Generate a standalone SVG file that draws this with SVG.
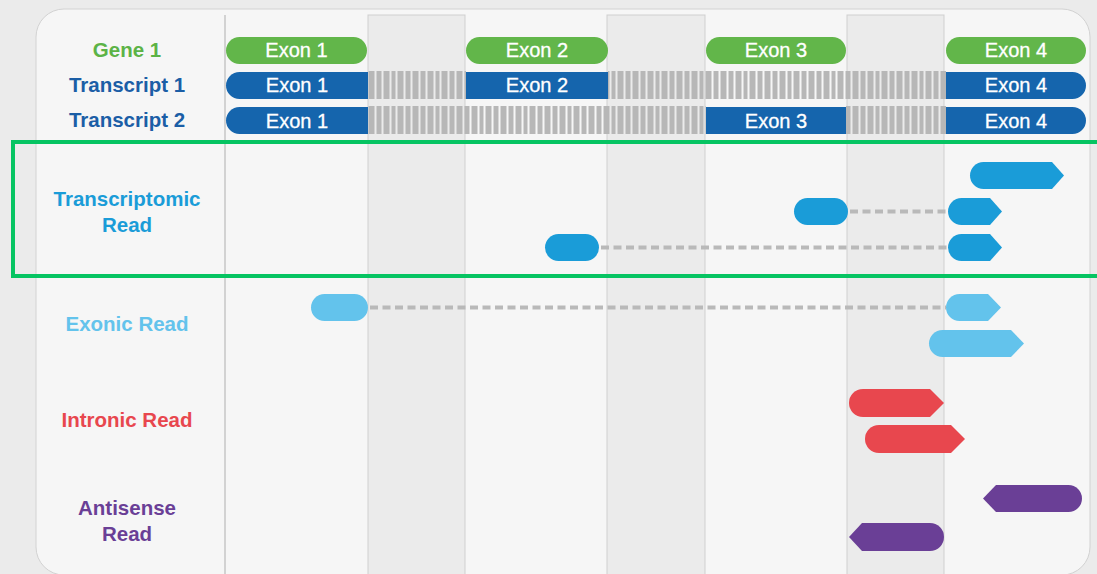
<svg xmlns="http://www.w3.org/2000/svg" width="1097" height="574" viewBox="0 0 1097 574">
  <defs>
    <style>
      .lbl { font-family: "Liberation Sans", Arial, sans-serif; font-weight: bold; font-size: 20.5px; text-anchor: middle; }
      .ex { font-family: "Liberation Sans", Arial, sans-serif; font-size: 20px; fill: #ffffff; text-anchor: middle; stroke: #ffffff; stroke-width: 0.3; }
      .gene { fill: #62b64a; }
      .tx { fill: #1565ad; }
      .intron { fill: #ebebeb; stroke: #cfcfcf; stroke-width: 1; }
      .dash { stroke: #b9b9b9; stroke-width: 4; stroke-dasharray: 8 4.5; fill: none; }
      .r-tx { fill: #1a9cd8; }
      .r-ex { fill: #63c3ec; }
      .r-in { fill: #e8474e; }
      .r-as { fill: #6a3f96; }
    </style>
    <!-- spliced-out region: irregular grey bars -->
    <pattern id="hatch" patternUnits="userSpaceOnUse" x="368" y="0" width="44" height="40">
      <rect x="0.5" y="0" width="6" height="40" fill="#b7b7b7"/>
      <rect x="8.5" y="0" width="5" height="40" fill="#b7b7b7"/>
      <rect x="15.5" y="0" width="6" height="40" fill="#b7b7b7"/>
      <rect x="23.5" y="0" width="4" height="40" fill="#b7b7b7"/>
      <rect x="29.5" y="0" width="6" height="40" fill="#b7b7b7"/>
      <rect x="37.5" y="0" width="5" height="40" fill="#b7b7b7"/>
    </pattern>
  </defs>

  <!-- page and card -->
  <rect x="0" y="0" width="1097" height="574" fill="#ebebeb"/>
  <rect x="36" y="9" width="1054" height="566" rx="28" fill="#f6f6f6" stroke="#d2d2d2" stroke-width="1"/>

  <!-- intron columns -->
  <g id="introns">
    <rect class="intron" x="368" y="15" width="97" height="560"/>
    <rect class="intron" x="607" y="15" width="98" height="560"/>
    <rect class="intron" x="847" y="15" width="97" height="560"/>
  </g>
  <line x1="225" y1="15" x2="225" y2="575" stroke="#c6c6c6" stroke-width="1.5"/>

  <!-- row labels -->
  <g id="labels">
    <text class="lbl" x="127" y="57" fill="#5cb346">Gene 1</text>
    <text class="lbl" x="127" y="92" fill="#1b5ea6">Transcript 1</text>
    <text class="lbl" x="127" y="127" fill="#1b5ea6">Transcript 2</text>
    <text class="lbl" x="127" y="206" fill="#1a9cd8">Transcriptomic</text>
    <text class="lbl" x="127" y="232" fill="#1a9cd8">Read</text>
    <text class="lbl" x="127" y="331" fill="#63c3ec">Exonic Read</text>
    <text class="lbl" x="127" y="427" fill="#e8474e">Intronic Read</text>
    <text class="lbl" x="127" y="515" fill="#6a3f96">Antisense</text>
    <text class="lbl" x="127" y="541" fill="#6a3f96">Read</text>
  </g>

  <!-- gene exons -->
  <g id="gene1">
    <rect class="gene" x="226" y="37" width="141" height="27" rx="13.5"/>
    <rect class="gene" x="466" y="37" width="142" height="27" rx="13.5"/>
    <rect class="gene" x="706" y="37" width="140" height="27" rx="13.5"/>
    <rect class="gene" x="946" y="37" width="140" height="27" rx="13.5"/>
    <text class="ex" x="296.5" y="57">Exon 1</text>
    <text class="ex" x="537" y="57">Exon 2</text>
    <text class="ex" x="776" y="57">Exon 3</text>
    <text class="ex" x="1016" y="57">Exon 4</text>
  </g>

  <!-- transcript 1: exons 1, 2, 4 -->
  <g id="transcript1">
    <rect x="368" y="71" width="98" height="28" fill="url(#hatch)"/>
    <rect x="608" y="71" width="338" height="28" fill="url(#hatch)"/>
    <path class="tx" d="M239.5,72 H368 V99 H239.5 A13.5,13.5 0 0 1 239.5,72 Z"/>
    <rect class="tx" x="466" y="72" width="142" height="27"/>
    <path class="tx" d="M946,72 H1072.5 A13.5,13.5 0 0 1 1072.5,99 H946 Z"/>
    <text class="ex" x="297" y="92">Exon 1</text>
    <text class="ex" x="537" y="92">Exon 2</text>
    <text class="ex" x="1016" y="92">Exon 4</text>
  </g>

  <!-- transcript 2: exons 1, 3, 4 -->
  <g id="transcript2">
    <rect x="368" y="106" width="338" height="28" fill="url(#hatch)"/>
    <rect x="846" y="106" width="100" height="28" fill="url(#hatch)"/>
    <path class="tx" d="M239.5,107 H368 V134 H239.5 A13.5,13.5 0 0 1 239.5,107 Z"/>
    <rect class="tx" x="706" y="107" width="140" height="27"/>
    <path class="tx" d="M946,107 H1072.5 A13.5,13.5 0 0 1 1072.5,134 H946 Z"/>
    <text class="ex" x="297" y="128">Exon 1</text>
    <text class="ex" x="776" y="128">Exon 3</text>
    <text class="ex" x="1016" y="128">Exon 4</text>
  </g>

  <!-- highlight box around transcriptomic reads -->
  <rect x="13" y="142" width="1100" height="134" fill="none" stroke="#06c462" stroke-width="4"/>

  <!-- split-read connectors -->
  <g id="connectors">
    <line class="dash" x1="850" y1="211.5" x2="948" y2="211.5"/>
    <line class="dash" x1="601" y1="247.5" x2="948" y2="247.5"/>
    <line class="dash" x1="370" y1="307.5" x2="946" y2="307.5"/>
  </g>

  <!-- transcriptomic reads -->
  <g id="transcriptomic-reads">
    <path class="r-tx" d="M983.5,162 H1052 L1064,175.5 L1052,189 H983.5 A13.5,13.5 0 0 1 983.5,162 Z"/>
    <rect class="r-tx" x="794" y="198" width="54" height="27" rx="13.5"/>
    <path class="r-tx" d="M961.5,198 H990 L1002,211.5 L990,225 H961.5 A13.5,13.5 0 0 1 961.5,198 Z"/>
    <rect class="r-tx" x="545" y="234" width="54" height="27" rx="13.5"/>
    <path class="r-tx" d="M961.5,234 H990 L1002,247.5 L990,261 H961.5 A13.5,13.5 0 0 1 961.5,234 Z"/>
  </g>

  <!-- exonic reads -->
  <g id="exonic-reads">
    <rect class="r-ex" x="311" y="294" width="57" height="27" rx="13.5"/>
    <path class="r-ex" d="M959.5,294 H988 L1001,307.5 L988,321 H959.5 A13.5,13.5 0 0 1 959.5,294 Z"/>
    <path class="r-ex" d="M942.5,330 H1011 L1024,343.5 L1011,357 H942.5 A13.5,13.5 0 0 1 942.5,330 Z"/>
  </g>

  <!-- intronic reads -->
  <g id="intronic-reads">
    <path class="r-in" d="M863,389 H930 L944,403 L930,417 H863 A14,14 0 0 1 863,389 Z"/>
    <path class="r-in" d="M879,425 H951 L965,439 L951,453 H879 A14,14 0 0 1 879,425 Z"/>
  </g>

  <!-- antisense reads -->
  <g id="antisense-reads">
    <path class="r-as" d="M983,498.5 L996,485 H1068.5 A13.5,13.5 0 0 1 1068.5,512 H996 Z"/>
    <path class="r-as" d="M849,537 L862,523 H930 A14,14 0 0 1 930,551 H862 Z"/>
  </g>
</svg>
